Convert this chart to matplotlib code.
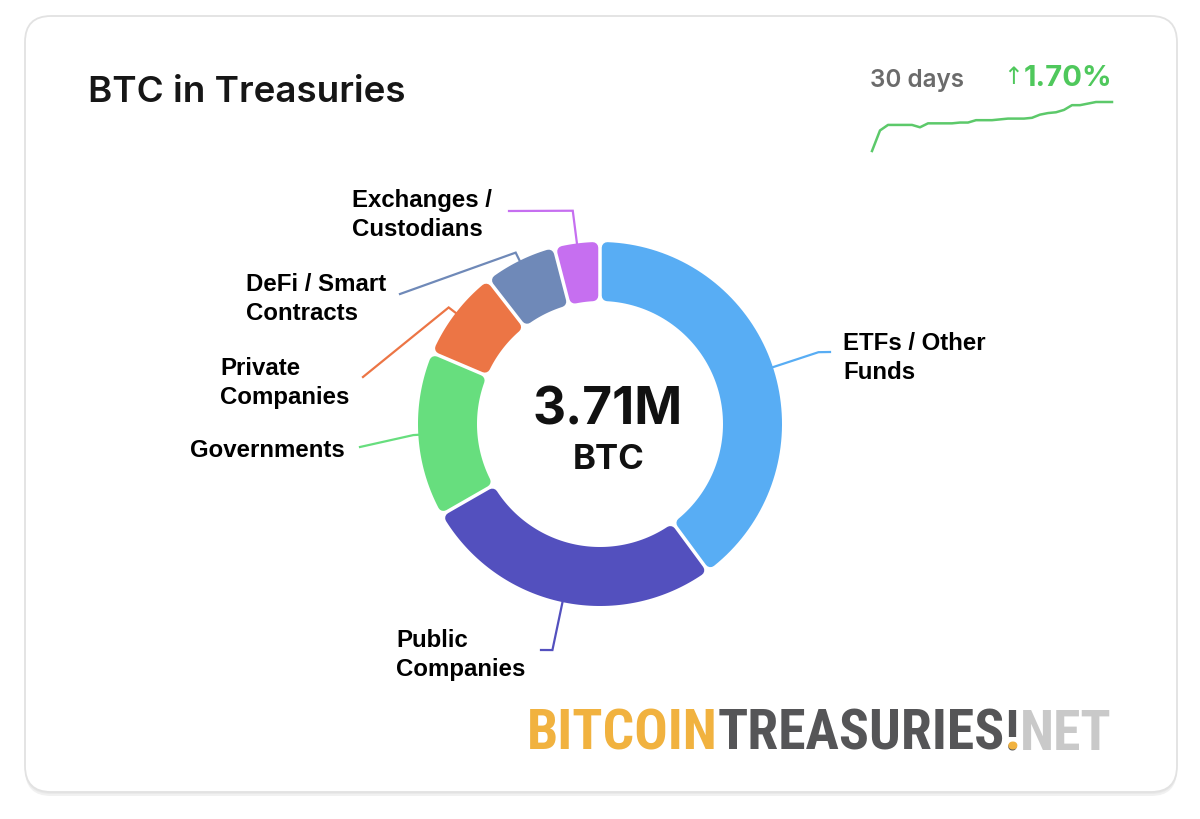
import numpy as np
import matplotlib.pyplot as plt
from matplotlib.patches import FancyBboxPatch, Polygon

# Data (thousand BTC)
categories = ["ETFs / Other\nFunds", "Public\nCompanies", "Governments",
              "Private\nCompanies", "DeFi / Smart\nContracts", "Exchanges /\nCustodians"]
holdings_k = [1480, 995, 545, 300, 240, 150]
colors = ["#58adf4", "#5350be", "#67de7e", "#ec7545", "#6f89b8", "#c66ff0"]

# 30 day total, thousand BTC
trend_days = list(range(31))
trend_k = [3648, 3674, 3681, 3681, 3681, 3681, 3678, 3683, 3683, 3683, 3683,
           3684, 3684, 3687, 3687, 3687, 3688, 3689, 3689, 3689, 3690, 3694,
           3696, 3697, 3700, 3706, 3706, 3708, 3710, 3710, 3710]

logo_parts = ["BITCOIN", "TREASURIES", "!", "NET"]

# Layout (pixel space)
CX, CY = 600, 425
R_OUT, R_IN = 182, 123
CORNER, GAP = 5.5, 3.5
# elbow radius, end of leader line, text anchor
label_layout = [
    (230, (830, 353), (843, 358)),
    (231, (541, 651), (396, 655)),
    (187, (360, 448), (190, 451)),
    (191, (363, 378), (220, 383)),
    (191, (400, 295), (246, 299)),
    (215, (509, 212), (352, 215)),
]

fig = plt.figure(figsize=(12, 8.2), dpi=100, facecolor="white")
ax = fig.add_axes([0, 0, 1, 1])
ax.set_xlim(0, 1200)
ax.set_ylim(820, 0)
ax.axis("off")

# card with soft shadow
for off, col in [(4, "#f1f1f1"), (2, "#e9e9e9")]:
    ax.add_patch(FancyBboxPatch((25, 17 + off), 1152, 776, boxstyle="round,pad=0,rounding_size=26",
                                facecolor=col, edgecolor="none", zorder=0))
ax.add_patch(FancyBboxPatch((25, 17), 1152, 776, boxstyle="round,pad=0,rounding_size=26",
                            facecolor="white", edgecolor="#e2e2e2", lw=1.3, zorder=1))

ax.text(88, 92, "BTC in Treasuries", fontsize=26.5, fontweight="semibold", color="#161616",
        family=["Inter", "DejaVu Sans"], va="center", ha="left", zorder=3)


def ring_segment(a_hi, a_lo, r_in, r_out, inset, n=80):
    ro, ri = r_out, r_in
    t_o = np.linspace(np.radians(a_hi) - np.arcsin(inset / ro), np.radians(a_lo) + np.arcsin(inset / ro), n)
    t_i = np.linspace(np.radians(a_lo) + np.arcsin(inset / ri), np.radians(a_hi) - np.arcsin(inset / ri), n)
    xs = np.concatenate([CX + ro * np.cos(t_o), CX + ri * np.cos(t_i)])
    ys = np.concatenate([CY - ro * np.sin(t_o), CY - ri * np.sin(t_i)])
    return np.column_stack([xs, ys])


total = sum(holdings_k)
lw_pt = 2 * CORNER * 72 / 100
start = 90.0
for val, col, name, (elbow_r, end, txt) in zip(holdings_k, colors, categories, label_layout):
    span = val / total * 360
    a_hi, a_lo = start, start - span
    verts = ring_segment(a_hi, a_lo, R_IN + CORNER, R_OUT - CORNER, CORNER + GAP / 2)
    ax.add_patch(Polygon(verts, closed=True, facecolor=col, edgecolor=col, lw=lw_pt,
                         joinstyle="round", zorder=2))
    mid = np.radians((a_hi + a_lo) / 2)
    p0 = (CX + R_OUT * np.cos(mid), CY - R_OUT * np.sin(mid))
    p1 = (CX + elbow_r * np.cos(mid), CY - elbow_r * np.sin(mid))
    ax.plot([p0[0], p1[0], end[0]], [p0[1], p1[1], end[1]], color=col, lw=1.6, zorder=2,
            solid_joinstyle="miter")
    ax.text(txt[0], txt[1], name, fontsize=17.3, fontweight="bold", color="black",
            family=["Liberation Sans", "DejaVu Sans"], ha="left", va="center", linespacing=1.36, zorder=3)
    start = a_lo

# center total
ax.text(CX + 8, 411, f"{total / 1000:.2f}M", fontsize=37, fontweight="bold", color="#111111",
        family=["Inter", "DejaVu Sans"], ha="center", va="center", zorder=3)
ax.text(CX + 9, 460, "BTC", fontsize=25, fontweight="bold", color="#111111",
        family=["Inter", "DejaVu Sans"], ha="center", va="center", zorder=3)

# 30 day sparkline
ax.text(870, 80, "30 days", fontsize=17.5, fontweight="semibold", color="#6b6b6b",
        family=["Inter", "DejaVu Sans"], ha="left", va="center", zorder=3)
change = (trend_k[-1] - trend_k[0]) / trend_k[0] * 100
pct = ax.text(1112, 79, f"{change:.2f}%", fontsize=21, fontweight="bold", color="#4fc85c",
              family=["Inter", "DejaVu Sans"], ha="right", va="center", zorder=3)
ax.annotate("↑", xy=(0, 77), xycoords=(pct, "data"), fontsize=17, color="#4fc85c",
            family=["DejaVu Sans"], ha="right", va="center", zorder=3)

sp = fig.add_axes([872 / 1200, (820 - 152) / 820, 240 / 1200, 49 / 820])
sp.plot(trend_days, trend_k, color="#5cc96a", lw=1.8, clip_on=False)
sp.set_xlim(trend_days[0], trend_days[-1])
sp.set_ylim(min(trend_k), max(trend_k))
sp.axis("off")

# watermark logo, scaled to fit its width
logo_font = ["Roboto Condensed", "Liberation Sans Narrow", "DejaVu Sans"]
logo_colors = ["#f1b23f", "#555557", "#555557", "#c9c9c9"]
base = 42
logo_texts = [ax.text(527, 750, logo_parts[0], fontsize=base, fontweight="bold", color=logo_colors[0],
                      family=logo_font, fontstretch="condensed", ha="left", va="baseline", zorder=3)]
for part, col in zip(logo_parts[1:], logo_colors[1:]):
    logo_texts.append(ax.annotate(part, xy=(1, 750), xycoords=(logo_texts[-1], "data"), fontsize=base,
                                  fontweight="bold", color=col, family=logo_font, fontstretch="condensed",
                                  ha="left", va="baseline", zorder=3))
dot = ax.annotate(".", xy=(0.5, 750), xycoords=(logo_texts[2], "data"), fontsize=base, fontweight="bold",
                  color="#f1b23f", family=logo_font, fontstretch="condensed", ha="center", va="baseline",
                  zorder=4)

fig.canvas.draw()
rend = fig.canvas.get_renderer()
width = logo_texts[-1].get_window_extent(rend).x1 - logo_texts[0].get_window_extent(rend).x0
for t in logo_texts + [dot]:
    t.set_fontsize(base * 586 / width)

fig.savefig("out.png", dpi=100, facecolor="white")
